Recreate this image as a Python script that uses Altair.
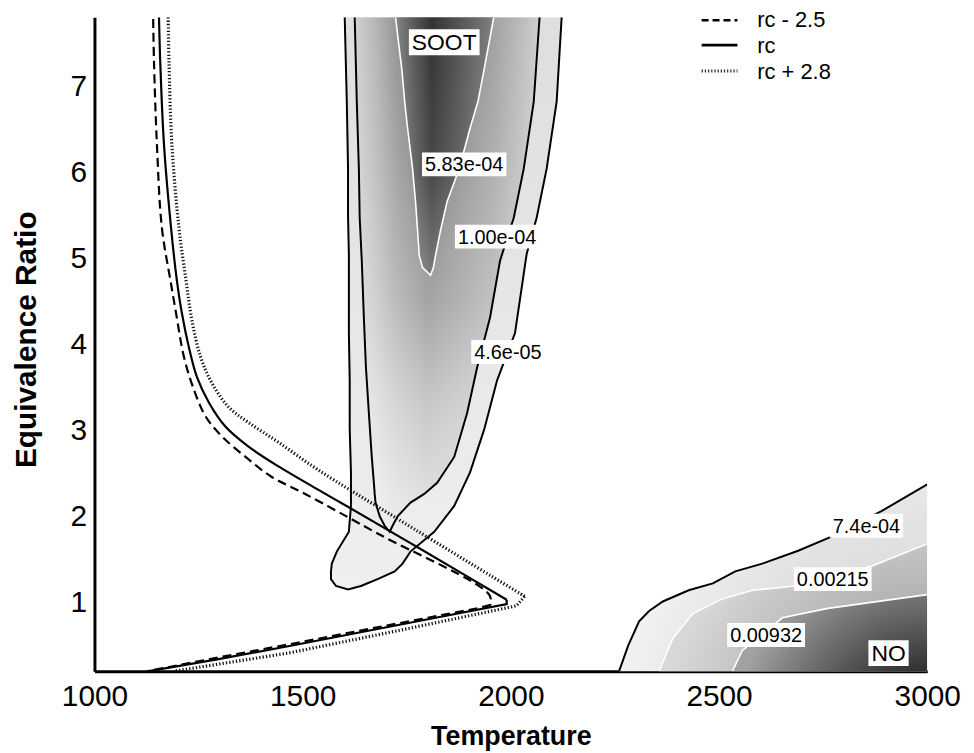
import altair as alt
import pandas as pd

# ---------------- values ----------------
# three reaction-curve series (Temperature, Equivalence Ratio); tip index splits branches
rc_T = [1155, 1158, 1167, 1184, 1198, 1210, 1227, 1246, 1275, 1315, 1370, 1442,
        1537, 1616, 1776, 1990, 1990, 1776, 1465, 1298, 1131]
rc_phi = [7.80, 7.28, 6.32, 5.35, 4.74, 4.36, 3.96, 3.62, 3.32, 3.04, 2.81, 2.58,
          2.31, 2.09, 1.64, 1.03, 0.98, 0.78, 0.49, 0.34, 0.20]

rc_minus_T = [1141, 1143, 1150, 1162, 1184, 1196, 1215, 1239, 1267, 1306, 1363,
              1425, 1506, 1680, 1948, 1952, 1919, 1680, 1465, 1298, 1127]
rc_minus_phi = [7.78, 7.28, 6.32, 5.35, 4.70, 4.36, 3.85, 3.47, 3.16, 2.93, 2.69,
                2.46, 2.26, 1.80, 1.09, 0.97, 0.93, 0.71, 0.51, 0.36, 0.20]

rc_plus_T = [1177, 1179, 1186, 1203, 1220, 1234, 1255, 1282, 1322, 1370, 1442,
             1537, 1728, 2033, 2014, 1728, 1465, 1191]
rc_plus_phi = [7.80, 7.28, 6.32, 5.35, 4.74, 4.28, 3.85, 3.55, 3.27, 3.09, 2.86,
               2.54, 1.97, 1.07, 0.96, 0.67, 0.41, 0.20]

legend_labels = ["rc - 2.5", "rc", "rc + 2.8"]

# soot contours: 4.6e-05 (outer), 1.00e-04 (inner), 5.83e-04 (core)
soot_outer_phi = [7.80, 6.82, 6.04, 5.47, 5.05, 4.13, 3.58, 3.01, 2.51, 2.12, 1.82,
                  1.59, 1.45, 1.36, 1.27, 1.19, 1.15]
soot_outer_left = [1601, 1606, 1609, 1609, 1611, 1611, 1613, 1613, 1616, 1616, 1611,
                   1582, 1570, 1568, 1568, 1580, 1609]
soot_outer_right = [2122, 2110, 2086, 2062, 2038, 2010, 1967, 1936, 1902, 1864, 1816,
                    1759, 1740, 1721, 1680, 1640, 1609]

soot_inner_phi = [7.80, 6.82, 6.04, 5.47, 4.97, 4.31, 3.73, 3.20, 2.69, 2.39, 2.26,
                  2.16, 2.00, 1.89, 1.82]
soot_inner_left = [1625, 1630, 1635, 1637, 1642, 1647, 1652, 1659, 1666, 1671, 1673,
                   1675, 1685, 1697, 1709]
soot_inner_right = [2069, 2055, 2031, 2007, 1974, 1950, 1919, 1895, 1864, 1823, 1792,
                    1759, 1728, 1716, 1709]

soot_core_phi = [7.80, 7.20, 6.82, 6.51, 6.04, 5.66, 5.32, 5.03, 4.89, 4.80]
soot_core_left = [1723, 1738, 1745, 1752, 1764, 1771, 1776, 1780, 1788, 1807]
soot_core_right = [1959, 1936, 1921, 1902, 1876, 1847, 1831, 1819, 1814, 1807]

# NO contours: 7.4e-04, 0.00215, 0.00932
no_low_T = [2260, 2282, 2308, 2332, 2365, 2427, 2485, 2539, 2604, 2690, 2773, 2890, 3000]
no_low_phi = [0.20, 0.50, 0.78, 0.90, 1.01, 1.14, 1.22, 1.36, 1.45, 1.60, 1.77, 2.06, 2.37]

no_mid_T = [2356, 2389, 2437, 2508, 2580, 2683, 2866, 3000]
no_mid_phi = [0.20, 0.58, 0.87, 1.04, 1.14, 1.19, 1.42, 1.68]

no_high_T = [2532, 2556, 2652, 2761, 3000]
no_high_phi = [0.20, 0.44, 0.82, 0.93, 1.09]

# in-plot labels
contour_label_text = ["5.83e-04", "1.00e-04", "4.6e-05", "7.4e-04", "0.00215", "0.00932"]
contour_label_T = [1888, 1967, 1993, 2854, 2773, 2613]
contour_label_phi = [6.09, 5.25, 3.91, 1.89, 1.27, 0.62]

region_label_text = ["SOOT", "NO"]
region_label_T = [1840, 2907]
region_label_phi = [7.51, 0.41]

# ---------------- layout / style ----------------
FONT = "Liberation Sans"
W, H = 838, 658
T_MIN, T_MAX = 1000, 3000
PHI_MIN, PHI_MAX = 0.2, 7.8
KX = (T_MAX - T_MIN) / W
KY = (PHI_MAX - PHI_MIN) / H

xs = alt.Scale(domain=[T_MIN, T_MAX], nice=False, zero=False)
ys = alt.Scale(domain=[PHI_MIN, PHI_MAX], nice=False, zero=False)

xax = alt.Axis(values=[1000, 1500, 2000, 2500, 3000], format="d", title="Temperature",
               grid=False, ticks=False, labelFont=FONT, labelFontSize=30,
               labelColor="black", labelPadding=11, labelFlush=False,
               labelOverlap=False, domainColor="black", domainWidth=3,
               titleFont=FONT, titleFontSize=27, titleFontWeight="bold",
               titleColor="black", titleBaseline="alphabetic", titleY=74)
yax = alt.Axis(values=[1, 2, 3, 4, 5, 6, 7], format="d", title="Equivalence Ratio",
               grid=False, ticks=False, labelFont=FONT, labelFontSize=30,
               labelColor="black", labelPadding=8, labelFlush=False,
               labelOverlap=False, domainColor="black", domainWidth=3,
               titleFont=FONT, titleFontSize=30, titleFontWeight="bold",
               titleColor="black", titleBaseline="alphabetic", titleAngle=270,
               titleX=-59, titleY=324)


def X(f):
    return alt.X(f"{f}:Q", scale=xs, axis=xax)


def Y(f):
    return alt.Y(f"{f}:Q", scale=ys, axis=yax)


def lin(stops, x1, y1, x2, y2):
    return alt.LinearGradient(
        gradient="linear",
        stops=[alt.GradientStop(color=c, offset=o) for o, c in stops],
        x1=x1, y1=y1, x2=x2, y2=y2)


def rad(stops):
    return alt.RadialGradient(
        gradient="radial",
        stops=[alt.GradientStop(color=c, offset=o) for o, c in stops],
        x1=1, y1=1, r1=0, x2=1, y2=1, r2=1)


def band_df(phi, left, right):
    return pd.DataFrame({"phi": phi, "left": left, "right": right}).sort_values("phi")


def loop_df(phi, left, right):
    T = list(left) + list(right[::-1][1:])
    P = list(phi) + list(phi[::-1][1:])
    return pd.DataFrame({"T": T, "phi": P, "i": range(len(T))})


def path_df(T, phi):
    return pd.DataFrame({"T": T, "phi": phi, "i": range(len(T))})


def band_area(df, fill):
    return alt.Chart(df).mark_area(orient="horizontal", color=fill, clip=True).encode(
        y=Y("phi"), x=X("left"), x2=alt.X2("right"))


def path_line(df, **kw):
    return alt.Chart(df).mark_line(clip=True, **kw).encode(
        x=X("T"), y=Y("phi"), order=alt.Order("i:Q"))


def wh(a):
    return f"rgba(255,255,255,{a})"


layers = []

# ---- soot region fills ----
outer = band_df(soot_outer_phi, soot_outer_left, soot_outer_right)
inner = band_df(soot_inner_phi, soot_inner_left, soot_inner_right)
core = band_df(soot_core_phi, soot_core_left, soot_core_right)

layers.append(band_area(outer, lin([(0, "#dedede"), (0.5, "#e6e6e6"), (1, "#efefef")], 0, 0, 0, 1)))
layers.append(band_area(inner, lin([(0, "#d2d2d2"), (0.12, "#b4b4b4"), (0.22, "#969696"),
                                    (0.4, "#707070"), (0.75, "#a0a0a0"), (0.88, "#b8b8b8"),
                                    (1, "#cecece")], 0, 0, 1, 0)))
layers.append(band_area(inner, lin([(0, wh(0)), (0.26, wh(0.15)), (0.55, wh(0.36)),
                                    (0.74, wh(0.6)), (0.94, wh(0.78)), (1, wh(0.8))], 0, 0, 0, 1)))
layers.append(band_area(core, lin([(0, "#858585"), (0.2, "#575757"), (0.37, "#333333"),
                                   (0.6, "#4e4e4e"), (1, "#808080")], 0, 0, 1, 0)))
layers.append(band_area(core, lin([(0, wh(0)), (0.6, wh(0.1)), (1, wh(0.35))], 0, 0, 0, 1)))

# ---- NO region fills ----
for T, P, stops in [
    (no_low_T, no_low_phi, [(0, "#cfcfcf"), (0.7, "#e2e2e2"), (1, "#f1f1f1")]),
    (no_mid_T, no_mid_phi, [(0, "#9a9a9a"), (0.6, "#b6b6b6"), (1, "#d8d8d8")]),
    (no_high_T, no_high_phi, [(0, "#000000"), (0.25, "#202020"), (0.6, "#5e5e5e"), (1, "#a2a2a2")]),
]:
    layers.append(alt.Chart(path_df(T, P)).mark_area(color=rad(stops), clip=True).encode(
        x=X("T"), y=Y("phi"), y2=alt.value(H)))

# ---- contour lines ----
layers.append(path_line(loop_df(soot_outer_phi, soot_outer_left, soot_outer_right), color="black", strokeWidth=2))
layers.append(path_line(loop_df(soot_inner_phi, soot_inner_left, soot_inner_right), color="black", strokeWidth=2))
layers.append(path_line(loop_df(soot_core_phi, soot_core_left, soot_core_right), color="white", strokeWidth=1.6))
layers.append(path_line(path_df(no_low_T, no_low_phi), color="black", strokeWidth=2))
layers.append(path_line(path_df(no_mid_T, no_mid_phi), color="white", strokeWidth=1.6))
layers.append(path_line(path_df(no_high_T, no_high_phi), color="white", strokeWidth=1.6))

# ---- rc curves: smooth upper branch, straight lower branch ----
DASH = [9, 5]
DOT = [1.3, 2.1]
rc_styles = [
    (rc_minus_T, rc_minus_phi, dict(color="black", strokeWidth=2.2, strokeDash=DASH)),
    (rc_T, rc_phi, dict(color="black", strokeWidth=2.2)),
    (rc_plus_T, rc_plus_phi, dict(color="#111111", strokeWidth=3.2, strokeDash=DOT)),
]
for T, P, st in rc_styles:
    tip = max(range(len(T)), key=lambda k: T[k])
    layers.append(path_line(path_df(T[:tip + 1], P[:tip + 1]), interpolate="catmull-rom", **st))
    layers.append(path_line(path_df(T[tip:], P[tip:]), **st))

# ---- labels with white boxes ----
CW = {"0": .556, "1": .556, "2": .556, "3": .556, "4": .556, "5": .556, "6": .556,
      "7": .556, "8": .556, "9": .556, ".": .278, "e": .556, "-": .333,
      "S": .667, "O": .778, "T": .611, "N": .722}


def label_layers(texts, Ts, Ps, fs, hh):
    w = [sum(CW.get(c, .556) for c in s) * fs for s in texts]
    df = pd.DataFrame({
        "label": texts, "T": Ts, "phi": Ps,
        "x1": [t - (wi / 2 + 3) * KX for t, wi in zip(Ts, w)],
        "x2": [t + (wi / 2 + 3) * KX for t, wi in zip(Ts, w)],
        "y1": [p - hh * KY for p in Ps],
        "y2": [p + hh * KY for p in Ps],
    })
    box = alt.Chart(df).mark_rect(color="white").encode(
        x=X("x1"), x2=alt.X2("x2"), y=Y("y1"), y2=alt.Y2("y2"))
    txt = alt.Chart(df).mark_text(font=FONT, fontSize=fs, color="black",
                                  align="center", baseline="middle", dy=1).encode(
        x=X("T"), y=Y("phi"), text="label:N")
    return [box, txt]


layers += label_layers(contour_label_text, contour_label_T, contour_label_phi, 20, 12)
layers += label_layers(region_label_text, region_label_T, region_label_phi, 23, 13)

# ---- legend (top right) ----
leg_styles = [dict(color="black", strokeWidth=2.6, strokeDash=[7, 4]),
              dict(color="black", strokeWidth=2.8),
              dict(color="#222222", strokeWidth=3, strokeDash=[1.2, 2])]
sym_y = [3, 28, 54]
txt_y = [3, 29, 55]
for lab, st, sy, ty in zip(legend_labels, leg_styles, sym_y, txt_y):
    ldf = pd.DataFrame({"label": [lab]})
    layers.append(alt.Chart(ldf).mark_rule(**st).encode(
        x=alt.value(611), x2=alt.value(647), y=alt.value(sy)))
    layers.append(alt.Chart(ldf).mark_text(font=FONT, fontSize=22, color="black",
                                           align="left", baseline="middle").encode(
        x=alt.value(667), y=alt.value(ty), text="label:N"))

chart = alt.layer(*layers).properties(
    width=W, height=H,
    autosize=alt.AutoSizeParams(type="none"),
    padding={"left": 87, "top": 7, "right": 39, "bottom": 78},
    background="white",
).configure_view(stroke=None)

chart.save("out.html", embed_options={"renderer": "svg", "actions": False})
